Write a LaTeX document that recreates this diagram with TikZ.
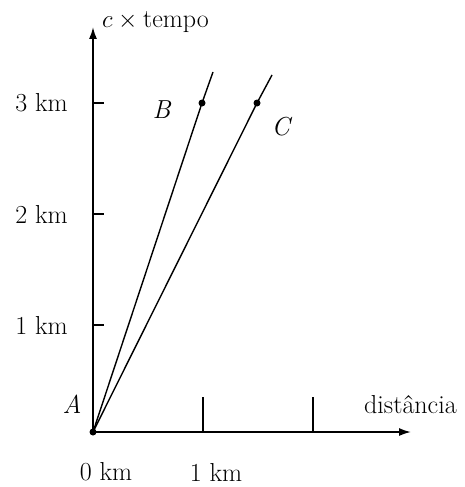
\documentclass[tikz,border=0pt]{standalone}
\usepackage{fontspec}
\setmainfont{Latin Modern Roman}
\usetikzlibrary{arrows.meta}
\begin{document}
\begin{tikzpicture}[x=1pt,y=-1pt,
  lbl/.style={inner sep=0pt,font=\fontsize{26}{30}\selectfont},
  axis/.style={line width=1.7pt,-{Latex[length=12pt,width=8pt]}},
  wl/.style={line width=1.4pt},
  tick/.style={line width=1.3pt},
  dot/.style={circle,fill,inner sep=0pt,minimum size=7pt}]
\useasboundingbox (0,0) rectangle (465,487);
\node[dot] (A) at (93,432) {};
\coordinate (Ytop) at (93,27);
\coordinate (Xend) at (411,432);
\draw[axis] (A.center) -- (Ytop);
\draw[axis] (A.center) -- (Xend);
% y ticks
\foreach \y/\t in {103/3,214/2,325/1}{
  \coordinate (yt\t) at (93,\y);
  \draw[tick] (yt\t) -- ++(11,0);
  \node[lbl,anchor=east] (yl\t) at (68,\y) {\t\ km};
}
% x ticks
\foreach \x/\n in {203/1,313/2}{
  \coordinate (xt\n) at (\x,432);
  \draw[tick] (xt\n) -- ++(0,-35);
}
\node[dot] (B) at (202,103) {};
\node[dot] (C) at (257,103) {};
\coordinate (Bend) at (213,72);
\coordinate (Cend) at (272,75);
\draw[wl] (A.center) -- (B.center) -- (Bend);
\draw[wl] (A.center) -- (C.center) -- (Cend);
\node[lbl] (Bl) at (162,110) {\textit{B}};
\node[lbl] (Cl) at (282,127) {\textit{C}};
\node[lbl] (Al) at (72,404) {\textit{A}};
\node[lbl,anchor=west] (yname) at (102,22) {$c\times{}$tempo};
\node[lbl,anchor=west] (xname) at (364,405) {distância};
\node[lbl] (x0) at (106,472) {0 km};
\node[lbl] (x1) at (216,472) {1 km};
\end{tikzpicture}
\end{document}
